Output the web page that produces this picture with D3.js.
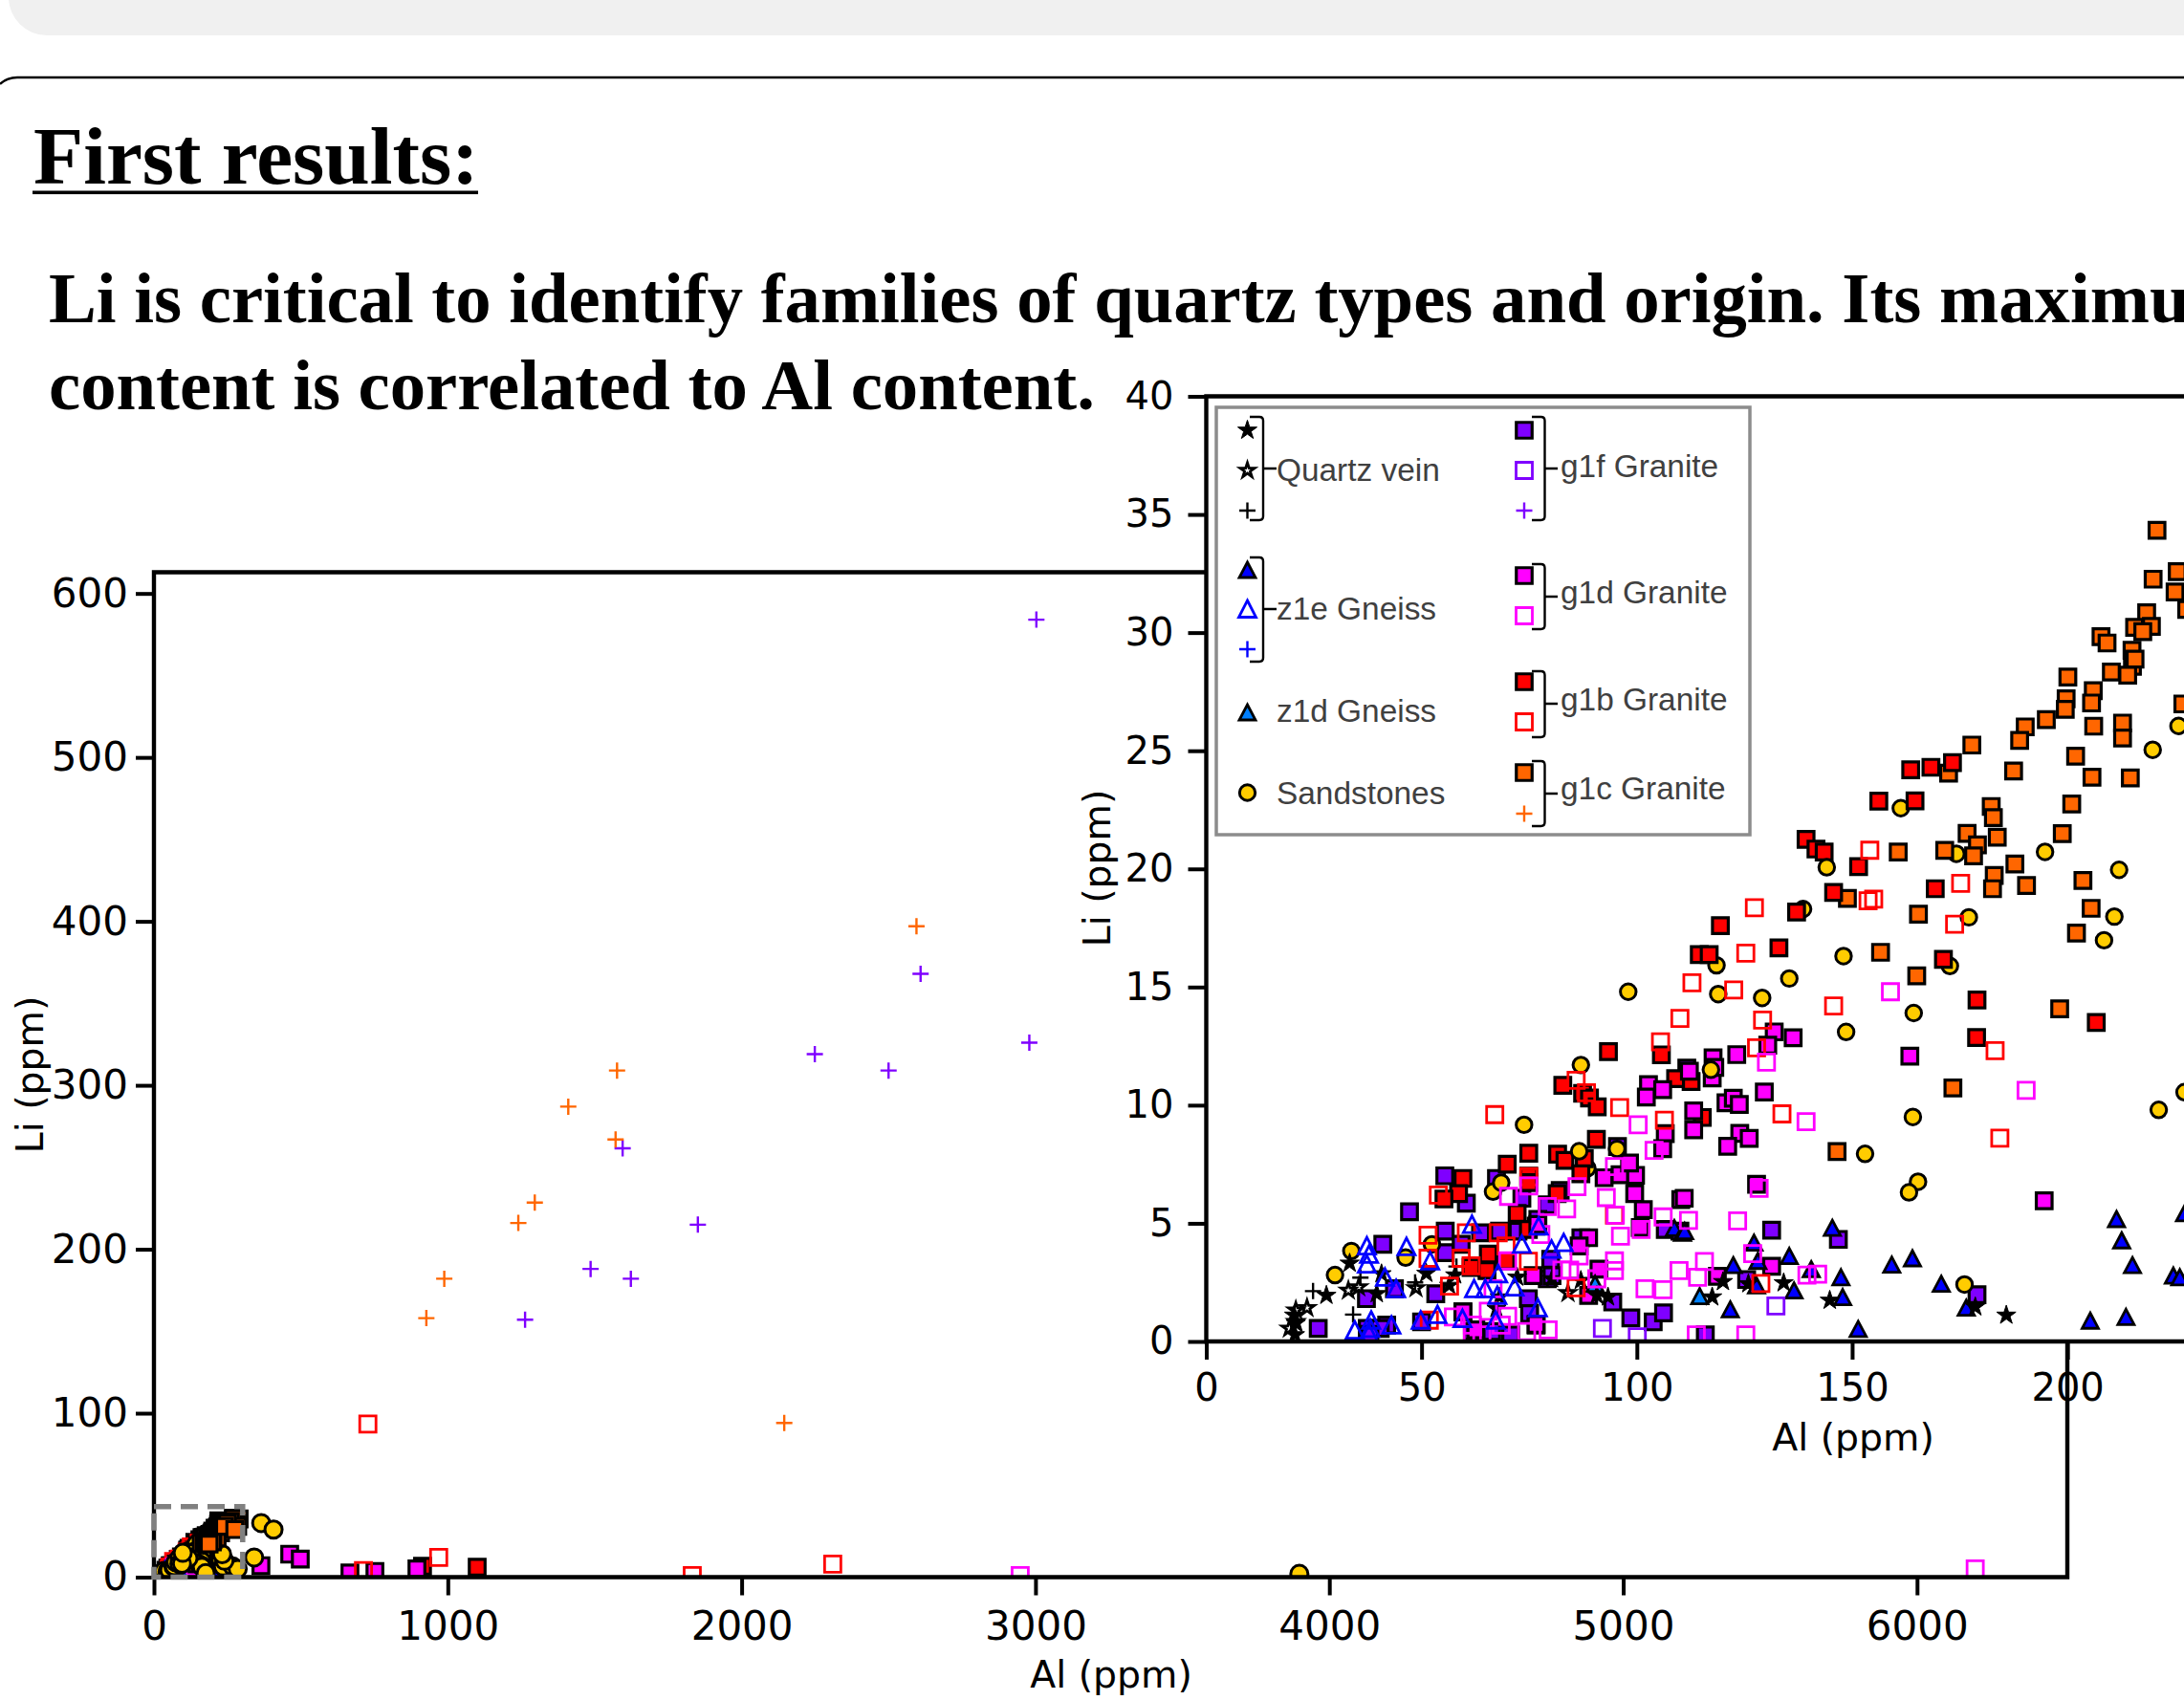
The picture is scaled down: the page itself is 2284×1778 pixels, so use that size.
<!DOCTYPE html>
<html><head><meta charset="utf-8">
<script src="https://cdnjs.cloudflare.com/ajax/libs/d3/7.8.5/d3.min.js"></script>
<style>html,body{margin:0;padding:0;background:#fff;overflow:hidden}svg{display:block}</style>
</head><body>
<svg id="c" width="2284" height="1778"></svg>
<script>
const heading = "First results:";
const subtitleLines = ["Li is critical to identify families of quartz types and origin. Its maximum","content is correlated to Al content."];
const axisXLabel = "Al (ppm)", axisYLabel = "Li (ppm)";
const mainXTicks = [0,1000,2000,3000,4000,5000,6000];
const mainYTicks = [0,100,200,300,400,500,600];
const insetXTicks = [0,50,100,150,200];
const insetYTicks = [0,5,10,15,20,25,30,35,40];

const g1fFilled = [[26,.55],[41,4.11],[47.2,5.49],[55.4,7.01],[60.4,5.85],[55.5,4.67],[55.5,3.76],[59.2,4.11],[63.7,4.6],[68.1,4.67],[72.4,4.67],[67.4,6.9],[73.3,6.06],[37.2,1.81],[43.7,2.23],[53.3,2.02],[50,.83],[37.4,.55],[41.9,.69],[40.4,.55],[59.6,1.25],[61.8,.42],[66.3,.42],[70.7,.28],[74.8,1.81],[75.1,1.18],[76.6,.69],[79.2,5.78],[79.2,2.65],[80,3.48],[80.3,2.79],[76.6,4.88],[87,4.39],[94.4,1.67],[98.6,1],[103.8,.83],[106.2,1.21],[106.6,4.74],[95.5,8.25],[110,4.67],[111.6,11.57],[131.3,4.71],[146.8,4.32],[179,1.98],[125.5,2.62],[115.9,.28],[77,5.17],[82.2,6.39],[38,.3]];
const sandstonesUnder = [[138.6,18.3],[118.5,15.92],[172.7,15.89],[88.5,7.33],[161.3,22.57],[174.2,20.64]];
const g1cFilled = [[220.8,34.33],[219.9,32.26],[225.5,32.58],[225,31.72],[227.7,30.98],[218.4,30.84],[219.5,30.26],[215.6,30.22],[217.5,30.04],[207.8,29.83],[209.2,29.56],[215,29.25],[215.1,28.57],[215.7,28.88],[210.2,28.33],[214,28.2],[200.1,28.12],[206,27.54],[205.6,27.02],[199.7,27.2],[199.5,26.75],[195.1,26.32],[190.2,26.01],[188.9,25.44],[226.8,26.98],[206.1,26.04],[212.8,26.17],[212.8,25.54],[177.8,25.24],[201.9,24.77],[205.7,23.88],[214.6,23.85],[187.5,24.14],[201,22.75],[172.4,24.05],[182.3,22.64],[182.8,22.17],[176.7,21.5],[183.7,21.34],[198.8,21.49],[179.1,21.02],[160.7,20.71],[171.5,20.78],[178.2,20.55],[187.8,20.21],[148.9,18.75],[183,19.72],[182.6,19.16],[190.5,19.3],[203.6,19.51],[205.5,18.33],[202.1,17.28],[165.4,18.08],[156.6,16.47],[165,15.47],[198.2,14.08],[173.4,10.73],[146.5,8.04],[290,35.5],[280,33],[270,36],[260,34],[285,31],[250,33],[240,31],[275,29]];
const g1bFilled = [[163.6,24.19],[168.3,24.3],[173.3,24.5],[156.2,22.87],[164.6,22.88],[139.3,21.25],[141.6,20.84],[143.5,20.71],[151.5,20.1],[145.7,19],[137.1,18.17],[119.4,17.6],[133,16.66],[114.5,16.37],[116.8,16.37],[169.3,19.16],[171.2,16.17],[179,14.45],[178.9,12.86],[206.7,13.5],[112.6,11],[115.2,9.48],[93.4,12.27],[105.7,12.13],[82.8,10.84],[87.4,10.5],[89,10.3],[90.8,9.93],[109,11.12],[90.6,8.55],[74.9,7.97],[81.6,7.93],[83.3,7.66],[87.8,7.73],[87,7.1],[69.9,7.5],[59.6,6.9],[58.6,6.26],[55.2,6.03],[74.9,7],[74.9,6.72],[81.5,6.26],[72.2,5.42],[65.5,3.7],[61.5,3.13],[65.2,3],[69.6,3.41],[74.8,4.74],[914,6.6],[1100,6]];
const g1dFilled = [[102.7,10.87],[106,10.66],[102.2,10.34],[112.2,11.44],[117.7,12],[117.5,11.15],[113.2,9.76],[113.2,8.96],[120.7,10.1],[122.4,10.29],[123.8,10.03],[106.6,8.8],[106,8.16],[92.4,6.93],[96.1,7.06],[99.7,7.03],[98.3,7.55],[99.5,6.26],[101.5,5.58],[100.8,4.82],[110.2,6],[88.8,4.39],[86.6,4.04],[91.2,3.06],[77,4.95],[75.9,2.79],[59.6,1.25],[76.6,.72],[88.8,1.95],[62.6,.49],[131.9,13.1],[136.3,12.85],[130.4,12.54],[123.2,12.14],[118.1,11.6],[129.6,10.56],[123.9,8.81],[126.1,8.59],[121.1,8.26],[127.8,6.65],[194.6,5.95],[163.4,12.07],[131.3,3.18],[118.7,2.76],[111,6.06],[462,14],[498,11],[364,7],[667,2.5],[752,3.5],[895,5]];
const sandstones = [[144.1,20.07],[212,19.96],[210.9,17.98],[208.5,16.98],[177.1,17.95],[148,16.31],[135.4,15.36],[118.9,14.7],[129.1,14.54],[164.3,13.9],[148.6,13.1],[221.2,9.8],[227.2,10.55],[164.1,9.5],[153,7.94],[165.3,6.76],[163.2,6.31],[176.1,2.41],[117.2,11.5],[219.8,25.04],[225.8,26.05],[194.8,20.72],[29.9,2.81],[33.7,3.83],[46.3,3.55],[52.4,4.11],[66.6,6.34],[68.5,6.72],[73.8,9.17],[87,11.7],[86.6,8.05],[95.4,8.15],[98,14.8],[365,33],[407,29],[341,12],[3898,2],[235,6.5],[268,6.5],[285,5],[240,10],[232,14]];
const z1eFilled = [[108.7,4.8],[110.6,4.6],[145.4,4.81],[127.2,4.18],[122.4,3.23],[135.4,3.62],[128.1,3.41],[140.5,3.06],[147.4,2.72],[136.5,2.16],[147.8,1.88],[127.8,2.37],[121.7,1.36],[151.4,.53],[159.2,3.25],[164,3.52],[170.7,2.44],[176.5,1.43],[211.4,5.18],[212.6,4.28],[215.1,3.23],[224.6,2.79],[226.1,2.72],[227.2,5.43],[205.3,.88],[213.6,1.04],[111.1,4.67]];
const z1dFilled = [[90.3,2.44],[114.6,1.92]];
const veinFilled = [[27.9,1.95],[33.3,3.31],[39.6,2.02],[40.7,2.86],[51.1,2.88],[57.8,2.81],[56.4,2.37],[68.1,1.88],[72.2,2.72],[87,2.58],[90.7,1.95],[93.3,1.88],[20.4,1.11],[20.6,.28],[20.8,.77],[67.4,1.39],[80.3,2.65],[120,2.53],[117.5,1.88],[125.9,2.44],[134.1,2.48],[144.8,1.74],[178.6,1.46],[185.8,1.11]];
const veinOpen = [[23.4,1.42],[20.8,1.32],[19.3,.55],[20.8,.83],[33,2.16],[35.4,2.3],[48.7,2.26],[84,2.06]];
const veinPlus = [[24.8,2.13],[35.8,2.7],[34.1,1.14],[48.5,2.5],[58.1,3.17],[65.5,2.9]];
const g1fOpen = [[92,.55],[100.1,.2],[132.3,1.5]];
const g1bOpen = [[127.3,18.36],[125.3,16.43],[112.8,15.18],[122.5,14.88],[110,13.67],[129.2,13.6],[145.7,14.2],[105.5,12.68],[85.9,11.05],[88.3,10.53],[96,9.9],[67,9.6],[106.4,9.36],[94.8,5.35],[53.9,6.2],[60.4,4.6],[67.8,4.6],[154.1,20.79],[153.7,18.65],[155,18.72],[175.2,19.39],[173.8,17.66],[127.8,12.43],[183.2,12.31],[133.7,9.63],[184.3,8.6],[128.8,2.45],[74.9,6.97],[51.5,4.5],[69.6,4.04],[51.5,3.52],[59.2,3.52],[61.5,3.2],[74.8,3.39],[85.9,2.27],[56.5,2.34],[51.8,.9],[728,93.4],[969,12],[2310,8],[1832,1],[713,4]];
const g1dOpen = [[100.3,9.17],[104,8.09],[94.8,7.4],[70.2,6.14],[74.9,6.58],[79.2,5.71],[86.1,6.55],[92.9,6.09],[83.7,5.61],[95,5.35],[106.1,5.27],[96.2,4.46],[101,4.74],[112,5.12],[77.7,4.53],[70,3.41],[86.6,3.62],[94.8,3.41],[94.8,3],[82.6,3.02],[84.4,3.02],[90.7,2.65],[109.8,3],[101.9,2.23],[106.1,2.19],[66.6,2.23],[57.4,1.04],[65.5,1.28],[70,1.07],[68.5,.69],[74.4,.42],[79.4,.49],[61.8,.69],[61.8,.28],[64,.28],[158.9,14.8],[130.1,11.82],[190.4,10.63],[139.3,9.3],[128.4,6.48],[123.4,5.1],[115.7,3.38],[114.1,2.72],[126.9,3.72],[139.5,2.81],[142,2.85],[113.8,.28],[125.3,.28],[2948,1],[6198,5]];
const z1eOpen = [[34.5,.48],[37.3,4.04],[37.8,3.69],[37.3,3.27],[41.5,2.72],[44.1,2.23],[38.3,.9],[38.1,.55],[37.8,.35],[43,.69],[46.5,4.01],[52,3.41],[61.7,4.95],[73.3,4.11],[77.2,4.88],[80.2,3.9],[83,4.18],[67.8,2.86],[62.2,2.23],[64.8,2.23],[67.6,1.95],[71.6,2.3],[77,1.42],[53.7,1.14],[49.8,.9],[59.5,.97],[67.2,.9]];
const g1fPlus = [[3003,584],[2979,326],[2249,319],[2500,309],[2609,368],[1595,261.6],[1851,215],[1486,188],[1623,182],[1263,157]];
const g1cPlus = [[2595,397],[1576,309],[1410,287],[1571,267],[1296,228.5],[1240,216],[988,182],[927,158],[2145,94]];

const C = {purple:"#7f00ff",magenta:"#ff00ff",red:"#ff0000",orange:"#ff6600",blue:"#0000ff",sky:"#0080ff",gold:"#ffcc00"};
const svg = d3.select("#c");
const font = "'DejaVu Sans'";

// marker shapes
const square = d3.symbol().type(d3.symbolSquare).size(16.5*16.5)();
const circle = d3.symbol().type(d3.symbolCircle).size(Math.PI*8.2*8.2)();
const circleMain = d3.symbol().type(d3.symbolCircle).size(Math.PI*9*9)();
const star = d3.symbol().type(d3.symbolStar).size(125)();
const starOpen = d3.symbol().type(d3.symbolStar).size(72)();
const tri = "M0,-8L8.5,8L-8.5,8Z";
const triOpen = "M0,-9L9,8.5L-9,8.5Z";
const plus = "M-8.5,0H8.5M0,-8.5V8.5";
const sq = { filled:c=>({d:square,fill:c,stroke:"#000",sw:3.2}), open:c=>({d:d3.symbol().type(d3.symbolSquare).size(17*17)(),fill:"none",stroke:c,sw:2.8}) };
const S = {
  g1fF:sq.filled(C.purple), g1dF:sq.filled(C.magenta), g1bF:sq.filled(C.red), g1cF:sq.filled(C.orange),
  g1fO:sq.open(C.purple), g1dO:sq.open(C.magenta), g1bO:sq.open(C.red),
  gold:{d:circle,fill:C.gold,stroke:"#000",sw:3}, goldMain:{d:circleMain,fill:C.gold,stroke:"#000",sw:3},
  z1eF:{d:tri,fill:C.blue,stroke:"#000",sw:2.8}, z1dF:{d:tri,fill:C.sky,stroke:"#000",sw:2.8},
  z1eO:{d:triOpen,fill:"none",stroke:C.blue,sw:2.8},
  veinF:{d:star,fill:"#000",stroke:"#000",sw:1}, veinO:{d:starOpen,fill:"none",stroke:"#000",sw:2.8},
  plusK:{d:plus,fill:"none",stroke:"#000",sw:2.4}, plusP:{d:plus,fill:"none",stroke:C.purple,sw:2.4},
  plusO:{d:plus,fill:"none",stroke:C.orange,sw:2.4}, plusB:{d:plus,fill:"none",stroke:C.blue,sw:2.4}
};
function drawMarker(g,s,x,y){ g.append("path").attr("d",s.d).attr("transform",`translate(${x},${y})`).attr("fill",s.fill).attr("stroke",s.stroke).attr("stroke-width",s.sw).attr("stroke-linejoin","miter"); }
function drawLayers(g,layers,x,y){ layers.forEach(([arr,s])=>{ g.append("g").selectAll("path").data(arr).join("path").attr("d",s.d).attr("transform",d=>`translate(${x(d[0])},${y(d[1])})`).attr("fill",s.fill).attr("stroke",s.stroke).attr("stroke-width",s.sw); }); }

// page furniture
svg.append("rect").attr("width",2284).attr("height",1778).attr("fill","#fff");
svg.append("rect").attr("x",9).attr("y",-60).attr("width",2320).attr("height",97).attr("rx",40).attr("fill","#f0f0f0");
svg.append("path").attr("d","M0,88Q7,81 18,81H2284").attr("fill","none").attr("stroke","#000").attr("stroke-width",2.4);
const serif = "'Liberation Serif'";
svg.append("text").attr("x",35).attr("y",192).attr("font-family",serif).attr("font-weight",700).attr("font-size",85.4).attr("fill","#000").text(heading);
svg.append("rect").attr("x",34).attr("y",199.5).attr("width",466).attr("height",3.6).attr("fill","#000");
subtitleLines.forEach((t,i)=>svg.append("text").attr("x",51).attr("y",i?428:337).attr("font-family",serif).attr("font-weight",700).attr("font-size",74.7).attr("fill","#000").text(t));

function axes(g,x,y,xt,yt,fs,box,xpad,ypad){
  const ax=g.append("g").attr("transform",`translate(0,${box.b})`).call(d3.axisBottom(x).tickValues(xt).tickSize(19).tickPadding(xpad).tickFormat(d3.format("d")));
  const ay=g.append("g").attr("transform",`translate(${box.l},0)`).call(d3.axisLeft(y).tickValues(yt).tickSize(19).tickPadding(ypad).tickFormat(d3.format("d")));
  [ax,ay].forEach(a=>{a.select(".domain").remove();a.selectAll("line").attr("stroke","#000").attr("stroke-width",4);a.selectAll("text").attr("font-family",font).attr("font-size",fs).attr("fill","#000");});
}

// main chart
const MB={l:161,r:2162,t:598.5,b:1649.5};
const mx=d3.scaleLinear().domain([0,(MB.r-MB.l)/0.3073]).range([MB.l,MB.r]);
const my=d3.scaleLinear().domain([0,(MB.b-MB.t)/1.7147]).range([MB.b,MB.t]);
const main=svg.append("g");
svg.append("defs").append("clipPath").attr("id","mc").append("rect").attr("x",MB.l).attr("y",MB.t).attr("width",MB.r-MB.l).attr("height",MB.b-MB.t);
const mp=main.append("g").attr("clip-path","url(#mc)");
const orangeLow=g1cFilled.filter(d=>d[1]<20), orangeHigh=g1cFilled.filter(d=>d[1]>=20);
drawLayers(mp,[[g1fFilled,S.g1fF],[g1bFilled,S.g1bF],[g1dFilled,S.g1dF],[veinFilled,S.veinF],[veinOpen,S.veinO],[veinPlus,S.plusK],[z1eFilled,S.z1eF],[z1dFilled,S.z1dF],[g1fOpen,S.g1fO],[g1bOpen,S.g1bO],[g1dOpen,S.g1dO],[z1eOpen,S.z1eO],[g1fPlus,S.plusP],[g1cPlus,S.plusO],[orangeLow,S.g1cF],[sandstonesUnder,S.goldMain],[sandstones,S.goldMain],[orangeHigh,S.g1cF]],mx,my);
axes(main,mx,my,mainXTicks,mainYTicks,42,MB,17,8);
main.append("path").attr("d",`M${MB.l},${MB.b}V${MB.t}H${MB.r}V${MB.b}Z`).attr("fill","none").attr("stroke","#000").attr("stroke-width",4.4);
main.append("rect").attr("x",mx(0)).attr("y",my(43)).attr("width",mx(302)-mx(0)).attr("height",my(0)-my(43)).attr("fill","none").attr("stroke","#808080").attr("stroke-width",5.5).attr("stroke-dasharray","18 10");
main.append("text").attr("x",1162).attr("y",1765).attr("text-anchor","middle").attr("font-family",font).attr("font-size",39.4).attr("fill","#000").text(axisXLabel);
main.append("text").attr("transform","translate(45,1124) rotate(-90)").attr("text-anchor","middle").attr("font-family",font).attr("font-size",39.4).attr("fill","#000").text(axisYLabel);

// inset chart
const IB={l:1261.5,r:2290,t:414.5,b:1403};
const ix=d3.scaleLinear().domain([0,(IB.r-IB.l)/4.503]).range([IB.l,IB.r]);
const iy=d3.scaleLinear().domain([0,40]).range([IB.b,IB.t]);
const inset=svg.append("g");
inset.append("rect").attr("x",IB.l).attr("y",IB.t).attr("width",IB.r-IB.l).attr("height",IB.b-IB.t).attr("fill","#fff");
svg.select("defs").append("clipPath").attr("id","ic").append("rect").attr("x",IB.l).attr("y",IB.t).attr("width",IB.r-IB.l).attr("height",IB.b-IB.t);
const ip=inset.append("g").attr("clip-path","url(#ic)");
drawLayers(ip,[[g1fPlus,S.plusP],[g1cPlus,S.plusO],[veinPlus,S.plusK],[g1fFilled,S.g1fF],[sandstonesUnder,S.gold],[g1cFilled,S.g1cF],[g1bFilled,S.g1bF],[g1dFilled,S.g1dF],[sandstones,S.gold],[z1eFilled,S.z1eF],[z1dFilled,S.z1dF],[veinFilled,S.veinF],[veinOpen,S.veinO],[g1fOpen,S.g1fO],[g1bOpen,S.g1bO],[g1dOpen,S.g1dO],[z1eOpen,S.z1eO]],ix,iy);
axes(inset,ix,iy,insetXTicks,insetYTicks,40,IB,15,15);
inset.append("path").attr("d",`M${IB.r},${IB.b}H${IB.l}V${IB.t}H${IB.r}`).attr("fill","none").attr("stroke","#000").attr("stroke-width",4.4);
inset.append("text").attr("x",1938).attr("y",1517).attr("text-anchor","middle").attr("font-family",font).attr("font-size",39.4).attr("fill","#000").text(axisXLabel);
inset.append("text").attr("transform","translate(1161,908) rotate(-90)").attr("text-anchor","middle").attr("font-family",font).attr("font-size",39.4).attr("fill","#000").text(axisYLabel);

// legend
const leg=inset.append("g");
leg.append("rect").attr("x",1272).attr("y",426).attr("width",558).attr("height",447).attr("fill","#fff").attr("stroke","#8c8c8c").attr("stroke-width",3.5);
const legendColumns=[1304.5,1594];
const legendMarkers=[[0,450,S.veinF],[0,492,S.veinO],[0,534,S.plusK],[0,596,S.z1eF],[0,637,S.z1eO],[0,679,S.plusB],[0,745,S.z1dF],[0,829,S.gold],
 [1,450,S.g1fF],[1,492,S.g1fO],[1,534,S.plusP],[1,602,S.g1dF],[1,644,S.g1dO],[1,713,S.g1bF],[1,755,S.g1bO],[1,808,S.g1cF],[1,851,S.plusO]];
legendMarkers.forEach(([c,y,s])=>drawMarker(leg,s,legendColumns[c],y));
function bracket(x0,x1,x2,y0,y1,ym){leg.append("path").attr("d",`M${x0},${y0}H${x1-4}Q${x1},${y0} ${x1},${y0+4}V${y1-4}Q${x1},${y1} ${x1-4},${y1}H${x0}M${x1},${ym}H${x2}`).attr("fill","none").attr("stroke","#000").attr("stroke-width",2.4);}
[[1307,1321,1335,436,544,490],[1307,1321,1335,583,692,637],[1602,1615.5,1629,436,544,490],[1602,1615.5,1629,590,658,624],[1602,1615.5,1629,702,771,736],[1602,1615.5,1629,796,864,830]].forEach(b=>bracket(...b));
const legendText=[["Quartz vein",1335,503],["z1e Gneiss",1335,648],["z1d Gneiss",1335,755],["Sandstones",1335,841],["g1f Granite",1632,499],["g1d Granite",1632,631],["g1b Granite",1632,743],["g1c Granite",1632,836]];
leg.selectAll("text").data(legendText).join("text").attr("x",d=>d[1]).attr("y",d=>d[2]).attr("font-family","'Liberation Sans'").attr("font-size",33.4).attr("fill","#404040").text(d=>d[0]);
</script>
</body></html>
